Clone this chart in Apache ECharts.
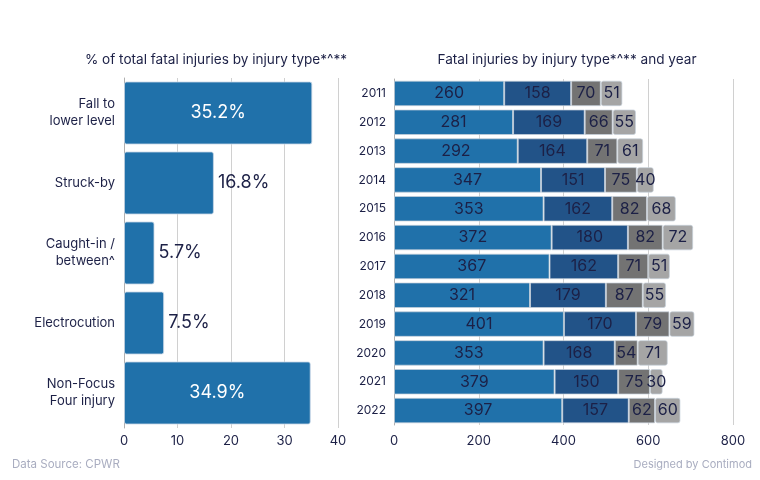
<!DOCTYPE html>
<html><head><meta charset="utf-8">
<script src="https://cdn.jsdelivr.net/npm/echarts@6/dist/echarts.min.js"></script>
<style>html,body{margin:0;padding:0;background:#fff}#c{width:760px;height:480px}</style>
</head><body><div id="c"></div>
<script>
const injuryTypes = ['Fall to\nlower level', 'Struck-by', 'Caught-in /\nbetween^', 'Electrocution', 'Non-Focus\nFour injury'];
const injuryPct = [35.2, 16.8, 5.7, 7.5, 34.9];
const years = ['2011','2012','2013','2014','2015','2016','2017','2018','2019','2020','2021','2022'];
const seriesA = [260, 281, 292, 347, 353, 372, 367, 321, 401, 353, 379, 397];
const seriesB = [158, 169, 164, 151, 162, 180, 162, 179, 170, 168, 150, 157];
const seriesC = [70, 66, 71, 75, 82, 82, 71, 87, 79, 54, 75, 62];
const seriesD = [51, 55, 61, 40, 68, 72, 51, 55, 59, 71, 30, 60];
const leftTicks = [0, 10, 20, 30, 40];
const rightTicks = [0, 200, 400, 600, 800];

const FONT = 'Inter';
const DARK = '#1c2046';
const chart = echarts.init(document.getElementById('c'));
const colors = ['#2071aa', '#225388', '#737373', '#a5a5a5'];
const stacks = [seriesA, seriesB, seriesC, seriesD];

const leftData = injuryPct.map(v => {
  const inside = v > 20;
  return {
    value: v,
    label: {
      show: true,
      position: inside ? 'inside' : 'right',
      color: inside ? '#ffffff' : DARK,
      fontSize: 18,
      fontFamily: FONT,
      distance: 4,
      formatter: p => p.value.toFixed(1) + '%'
    }
  };
});

const option = {
  animation: false,
  title: [
    { text: '% of total fatal injuries by injury type*^**', left: 216, textAlign: 'center', top: 53, padding: 0,
      textStyle: { fontSize: 13.6, fontWeight: 'normal', color: DARK, fontFamily: FONT } },
    { text: 'Fatal injuries by injury type*^** and year', left: 567, textAlign: 'center', top: 53, padding: 0,
      textStyle: { fontSize: 13.6, fontWeight: 'normal', color: DARK, fontFamily: FONT } },
    { text: 'Data Source: CPWR', left: 12, top: 459, padding: 0,
      textStyle: { fontSize: 11.5, fontWeight: 'normal', color: '#a9adc0', fontFamily: FONT } },
    { text: 'Designed by Contimod', right: 8, top: 459, padding: 0,
      textStyle: { fontSize: 11, fontWeight: 'normal', color: '#a9adc0', fontFamily: FONT } }
  ],
  grid: [
    { left: 124, right: 422, top: 78, bottom: 52 },
    { left: 394, right: 27, top: 79, bottom: 55 }
  ],
  xAxis: [
    { gridIndex: 0, type: 'value', min: leftTicks[0], max: leftTicks[leftTicks.length-1], interval: 10,
      axisLine: { show: false }, axisTick: { show: false },
      axisLabel: { color: DARK, fontSize: 13, fontFamily: FONT, margin: 7 },
      splitLine: { lineStyle: { color: '#d0d0d0' } } },
    { gridIndex: 1, type: 'value', min: rightTicks[0], max: rightTicks[rightTicks.length-1], interval: 200,
      axisLine: { show: false }, axisTick: { show: false },
      axisLabel: { color: DARK, fontSize: 13, fontFamily: FONT, margin: 10 },
      splitLine: { lineStyle: { color: '#d0d0d0' } } }
  ],
  yAxis: [
    { gridIndex: 0, type: 'category', data: injuryTypes, inverse: true,
      axisLine: { show: true, lineStyle: { color: '#b0b0b0' } }, axisTick: { show: false },
      axisLabel: { color: DARK, fontSize: 13, fontFamily: FONT, lineHeight: 17, margin: 9 } },
    { gridIndex: 1, type: 'category', data: years, inverse: true,
      axisLine: { show: true, lineStyle: { color: '#b0b0b0' } }, axisTick: { show: false },
      axisLabel: { color: DARK, fontSize: 12, fontFamily: FONT, margin: 8 } }
  ],
  series: [
    { type: 'bar', xAxisIndex: 0, yAxisIndex: 0, data: leftData, barCategoryGap: '10%',
      itemStyle: { color: '#2071aa', borderColor: 'rgba(200,215,230,0.8)', borderWidth: 1, borderRadius: 2 } }
  ].concat(stacks.map((arr, i) => ({
    type: 'bar', xAxisIndex: 1, yAxisIndex: 1, stack: 'y', data: arr, barCategoryGap: '11.5%',
    itemStyle: { color: colors[i], borderColor: 'rgba(200,210,220,0.7)', borderWidth: 1, borderRadius: i === 3 ? 2 : 0 },
    label: { show: true, position: 'inside', color: DARK, fontSize: 16, fontFamily: FONT }
  })))
};
chart.setOption(option);
</script>
</body></html>
